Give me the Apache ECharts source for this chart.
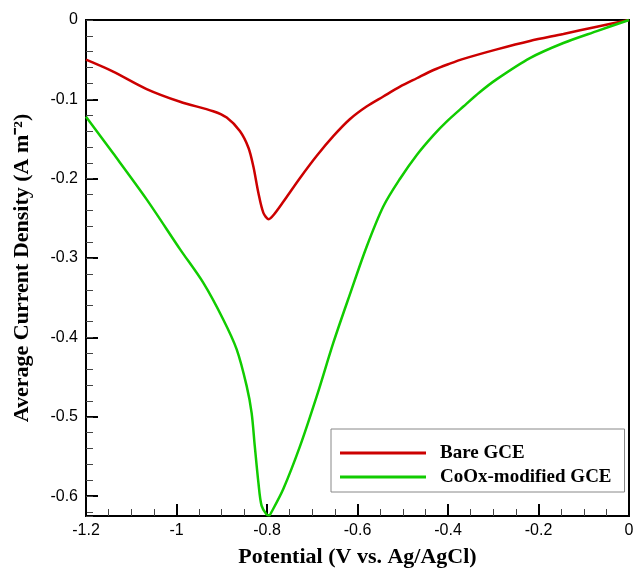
<!DOCTYPE html>
<html>
<head>
<meta charset="utf-8">
<script src="https://cdn.jsdelivr.net/npm/echarts@6/dist/echarts.min.js"></script>
<style>html,body{margin:0;padding:0;background:#fff;}#c{width:636px;height:568px;}</style>
</head>
<body>
<div id="c"></div>
<script>
// Potential (V vs. Ag/AgCl)
const xBare = [-1.2, -1.14, -1.066, -0.992, -0.919, -0.889, -0.86, -0.841, -0.83, -0.819, -0.808, -0.796, -0.786, -0.764, -0.727, -0.69, -0.653, -0.617, -0.58, -0.543, -0.506, -0.469, -0.432, -0.396, -0.366, -0.292, -0.219, -0.145, -0.071, 0];
const yBare = [-0.050, -0.065, -0.087, -0.103, -0.115, -0.123, -0.140, -0.161, -0.185, -0.218, -0.243, -0.251, -0.246, -0.229, -0.199, -0.171, -0.146, -0.125, -0.109, -0.0964, -0.084, -0.0734, -0.063, -0.055, -0.049, -0.037, -0.0264, -0.0176, -0.0084, 0];
const xCoOx = [-1.2, -1.14, -1.066, -0.992, -0.941, -0.897, -0.867, -0.845, -0.834, -0.827, -0.819, -0.812, -0.801, -0.795, -0.79, -0.764, -0.727, -0.69, -0.653, -0.617, -0.58, -0.543, -0.506, -0.469, -0.432, -0.403, -0.366, -0.33, -0.292, -0.219, -0.145, -0.071, 0];
const yCoOx = [-0.122, -0.168, -0.226, -0.289, -0.331, -0.377, -0.415, -0.461, -0.495, -0.537, -0.583, -0.612, -0.623, -0.624, -0.620, -0.591, -0.537, -0.474, -0.406, -0.346, -0.286, -0.235, -0.200, -0.170, -0.145, -0.128, -0.109, -0.091, -0.0745, -0.048, -0.029, -0.014, 0];
const seriesNames = ['Bare GCE', 'CoOx-modified GCE'];
const xTitle = 'Potential (V vs. Ag/AgCl)';
const yTitle = 'Average Current Density (A m\u207B\u00B2)';

// current density is drawn on an inverted axis of its magnitude so ticks start at 0
const pairs = (xs, ys) => xs.map((x, i) => [x, -ys[i]]);
const chart = echarts.init(document.getElementById('c'));
const tickFont = {fontFamily: 'Liberation Sans', fontSize: 16, color: '#000'};
const titleFont = {fontFamily: 'Liberation Serif', fontWeight: 'bold', fontSize: 22, color: '#000'};
const yLabel = v => {
  if (Math.abs(v * 10 - Math.round(v * 10)) > 1e-6) return '';
  const r = Math.round(v * 10) / 10;
  return r === 0 ? '0' : '-' + r;
};
chart.setOption({
  animation: false,
  grid: {left: 86, right: 7, top: 20, bottom: 52, outerBoundsMode: 'none', containLabel: false,
         show: true, borderColor: '#000', borderWidth: 2, backgroundColor: 'transparent'},
  legend: {
    data: seriesNames,
    orient: 'vertical', left: 331, top: 429,
    icon: 'rect', itemWidth: 86, itemHeight: 3, itemGap: 4,
    borderColor: '#888', borderWidth: 1, padding: [14, 13, 5, 9],
    textStyle: {fontFamily: 'Liberation Serif', fontWeight: 'bold', fontSize: 19, lineHeight: 20, color: '#000', padding: [0, 0, 0, 9]}
  },
  xAxis: {
    type: 'value', min: -1.2, max: 0, interval: 0.2,
    name: xTitle, nameLocation: 'middle', nameGap: 30,
    nameTextStyle: titleFont,
    axisLine: {show: true, onZero: false, lineStyle: {color: '#000', width: 2}},
    axisTick: {show: true, inside: true, length: 12, lineStyle: {color: '#000', width: 2}},
    minorTick: {show: true, splitNumber: 4, length: 7, lineStyle: {color: '#444', width: 1}},
    axisLabel: Object.assign({margin: 7, formatter: v => String(Math.round(v * 10) / 10)}, tickFont),
    splitLine: {show: false}
  },
  yAxis: [{
    type: 'value', inverse: true, min: 0, max: 0.625, interval: 0.1, position: 'left',
    name: yTitle, nameLocation: 'middle', nameGap: 53,
    nameTextStyle: titleFont,
    axisLine: {show: true, onZero: false, lineStyle: {color: '#000', width: 2}},
    axisTick: {show: true, inside: true, length: 12, lineStyle: {color: '#000', width: 2}},
    axisLabel: Object.assign({margin: 8, formatter: yLabel}, tickFont),
    splitLine: {show: false}
  }, {
    type: 'value', inverse: true, min: 0, max: 0.625, interval: 0.02, position: 'left',
    axisLine: {show: false, onZero: false},
    axisTick: {show: true, inside: true, length: 7, lineStyle: {color: '#444', width: 1}},
    axisLabel: {show: false},
    splitLine: {show: false}
  }],
  series: [
    {name: seriesNames[0], type: 'line', yAxisIndex: 0, data: pairs(xBare, yBare), showSymbol: false, smooth: 0.3,
     lineStyle: {color: '#cc0000', width: 2.5}, itemStyle: {color: '#cc0000'}},
    {name: seriesNames[1], type: 'line', yAxisIndex: 0, data: pairs(xCoOx, yCoOx), showSymbol: false, smooth: 0.3,
     lineStyle: {color: '#11cc00', width: 2.5}, itemStyle: {color: '#11cc00'}}
  ]
});
</script>
</body>
</html>
